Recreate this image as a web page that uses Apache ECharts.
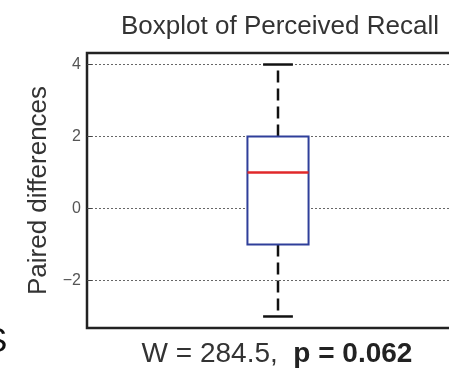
<!DOCTYPE html>
<html>
<head>
<meta charset="utf-8">
<script src="https://cdn.jsdelivr.net/npm/echarts@6/dist/echarts.min.js"></script>
<style>html,body{margin:0;padding:0;background:#fff}#c{width:449px;height:369px}</style>
</head>
<body>
<div id="c"></div>
<script>
const categories = [1];
const minVals = [-3];
const q1Vals = [-1];
const medianVals = [1];
const q3Vals = [2];
const maxVals = [4];
const yTicks = [-2, 0, 2, 4];

const data = categories.map((c, i) => [c, minVals[i], q1Vals[i], medianVals[i], q3Vals[i], maxVals[i]]);

const chart = echarts.init(document.getElementById('c'));
chart.setOption({
  animation: false,
  grid: { left: 87, top: 53, width: 382, height: 275, outerBoundsMode: 'none', containLabel: false, show: true, borderColor: '#222', borderWidth: 2.5, backgroundColor: 'transparent' },
  xAxis: { type: 'value', min: 0.5, max: 1.5, show: false },
  yAxis: {
    type: 'value', min: -3.32, max: 4.32,
    name: 'Paired differences', nameLocation: 'middle', nameGap: 27, nameRotate: 90,
    nameTextStyle: { fontFamily: 'Liberation Sans', fontSize: 26, color: '#333' },
    axisLine: { show: false },
    axisTick: { show: true, inside: true, length: 5, customValues: yTicks, lineStyle: { color: '#444', width: 1 } },
    axisLabel: { customValues: yTicks, margin: 6, fontFamily: 'Liberation Sans', fontSize: 16, color: '#555',
      formatter: v => (v < 0 ? '\u2212' + Math.abs(v) : String(v)) },
    splitLine: { show: true, lineStyle: { color: '#666', type: [2, 2], width: 1 } }
  },
  graphic: [
    { type: 'text', x: 280, y: 27, style: { text: 'Boxplot of Perceived Recall', fontFamily: 'Liberation Sans', fontSize: 26, fill: '#333', align: 'center', verticalAlign: 'middle' } },
    { type: 'text', x: 277, y: 354, style: { text: '{n|W = 284.5,\u00a0\u00a0}{b|p = 0.062}', align: 'center', verticalAlign: 'middle',
      rich: { n: { fontFamily: 'Liberation Sans', fontSize: 28, fill: '#333' }, b: { fontFamily: 'Liberation Sans', fontSize: 28, fontWeight: 'bold', fill: '#222' } } } },
    { type: 'text', x: -16, y: 342, style: { text: 'S', fontFamily: 'Liberation Sans', fontSize: 35, fill: '#111', verticalAlign: 'middle' } }
  ],
  series: [{
    type: 'custom',
    data: data,
    clip: false,
    encode: { x: 0, y: [1, 2, 3, 4, 5] },
    renderItem: function (params, api) {
      const x = api.value(0);
      const pMin = api.coord([x, api.value(1)]);
      const pQ1 = api.coord([x, api.value(2)]);
      const pMed = api.coord([x, api.value(3)]);
      const pQ3 = api.coord([x, api.value(4)]);
      const pMax = api.coord([x, api.value(5)]);
      const bw = api.size([0.16, 0])[0];
      const cw = api.size([0.078, 0])[0];
      const cx = pMed[0];
      const whisk = { stroke: '#111', lineWidth: 2.5, lineDash: [12, 6] };
      return {
        type: 'group',
        children: [
          { type: 'line', shape: { x1: cx, y1: pQ3[1], x2: cx, y2: pMax[1] }, style: whisk },
          { type: 'line', shape: { x1: cx, y1: pQ1[1], x2: cx, y2: pMin[1] }, style: whisk },
          { type: 'line', shape: { x1: cx - cw / 2, y1: pMax[1], x2: cx + cw / 2, y2: pMax[1] }, style: { stroke: '#111', lineWidth: 2.5 } },
          { type: 'line', shape: { x1: cx - cw / 2, y1: pMin[1], x2: cx + cw / 2, y2: pMin[1] }, style: { stroke: '#111', lineWidth: 2.5 } },
          { type: 'rect', shape: { x: cx - bw / 2, y: pQ3[1], width: bw, height: pQ1[1] - pQ3[1] }, style: { fill: '#fff', stroke: '#2f3f9a', lineWidth: 2 } },
          { type: 'line', shape: { x1: cx - bw / 2, y1: pMed[1], x2: cx + bw / 2, y2: pMed[1] }, style: { stroke: '#e0282a', lineWidth: 2.5 } }
        ]
      };
    }
  }]
});
</script>
</body>
</html>
